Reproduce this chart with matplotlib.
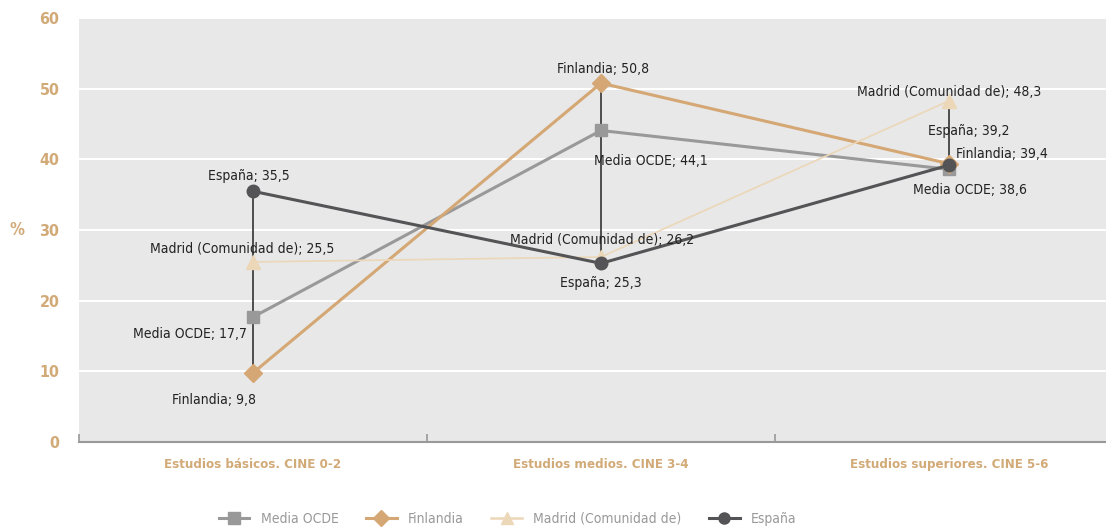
import matplotlib
matplotlib.use('Agg')
import matplotlib.pyplot as plt
from matplotlib.lines import Line2D

plt.rcParams['font.family'] = ['DejaVu Sans']
plt.rcParams['font.stretch'] = 'condensed'

categories = ['Estudios básicos. CINE 0-2', 'Estudios medios. CINE 3-4', 'Estudios superiores. CINE 5-6']
media_ocde = [17.7, 44.1, 38.6]
finlandia = [9.8, 50.8, 39.4]
madrid = [25.5, 26.2, 48.3]
espana = [35.5, 25.3, 39.2]

tan = '#d2aa78'
series = [
    ('Media OCDE', media_ocde, '#999999', 's', 2.2, 9),
    ('Finlandia', finlandia, '#d4a774', 'D', 2.2, 9),
    ('Madrid (Comunidad de)', madrid, '#ecd7b8', '^', 1.2, 10),
    ('España', espana, '#545456', 'o', 2.2, 9),
]

# label offsets in pixels (dx, dy, ha)
offsets = {
    'Media OCDE': [(-63, -17, 'center'), (-7, -31, 'left'), (21, -21, 'center')],
    'Finlandia': [(-39, -27, 'center'), (2, 14, 'center'), (7, 10, 'left')],
    'Madrid (Comunidad de)': [(-11, 13, 'center'), (1, 17, 'center'), (0, 9, 'center')],
    'España': [(-4, 15, 'center'), (0, -20, 'center'), (20, 34, 'center')],
}

fig = plt.figure(figsize=(11.06, 5.27), dpi=100)
ax = fig.add_axes([0.0714, 0.161, 0.944, 0.8046])
ax.set_facecolor('#e7e8e7')
x = list(range(len(categories)))

# linea max-min por categoria
for i in x:
    vals = [s[1][i] for s in series]
    ax.plot([i, i], [min(vals), max(vals)], color='#333333', lw=1.2, zorder=2)

handles = []
for name, vals, col, mk, lw, ms in series:
    ax.plot(x, vals, color=col, lw=lw, marker=mk, markersize=ms, markeredgecolor=col, zorder=3)
    handles.append(Line2D([0], [0], color=col, lw=lw if lw > 2 else 1.8, marker=mk, markersize=ms - 1, label=name))
    for i, v in enumerate(vals):
        dx, dy, ha = offsets[name][i]
        ax.annotate(f'{name}; {v:.1f}'.replace('.', ','), xy=(i, v), xytext=(dx, dy),
                    textcoords='offset pixels', ha=ha, va='center', fontsize=10, color='#222222', zorder=5)

ax.set_xlim(-0.5, 2.5)
ax.set_ylim(0, 60)
ax.set_yticks(range(0, 61, 10))
ax.grid(axis='y', color='white', lw=1.5)
ax.set_axisbelow(True)
for sp in ['top', 'right', 'left']:
    ax.spines[sp].set_visible(False)
ax.spines['bottom'].set_color('#999999')
ax.spines['bottom'].set_linewidth(1.5)
ax.tick_params(axis='y', length=0, pad=14, labelsize=11.5, labelcolor=tan)
for t in ax.get_yticklabels():
    t.set_fontweight('bold')
ax.set_xticks([-0.5, 0.5, 1.5])
ax.set_xticklabels([])
ax.tick_params(axis='x', direction='in', length=6, color='#999999', width=1.2)
for i, c in enumerate(categories):
    ax.text(i, -3.2, c, ha='center', va='center', fontsize=9.5, fontweight='bold', color=tan)
fig.text(0.009, 1 - 230 / 527, '%', ha='left', va='center', fontsize=12, fontweight='bold', color=tan)

leg = fig.legend(handles=handles, loc='center', bbox_to_anchor=(0.459, 0.016), ncol=4, frameon=False,
                 fontsize=10, handlelength=2.2, columnspacing=2.0)
for t in leg.get_texts():
    t.set_color('#999999')

fig.savefig('out.png', dpi=100)
